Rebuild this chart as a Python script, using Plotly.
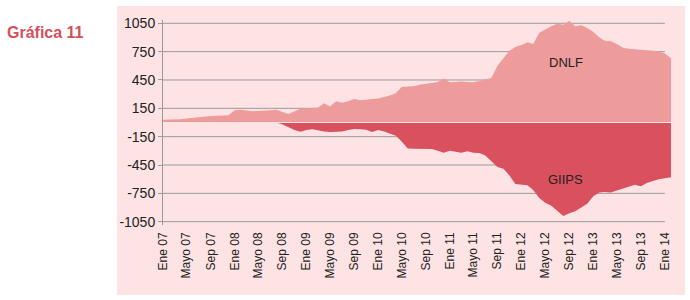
import plotly.graph_objects as go
import pandas as pd

months = pd.date_range("2007-01-01", "2014-02-01", freq="MS")

dnlf = [30, 30, 32, 35, 42, 50, 55, 62, 68, 72, 75, 76,
        130, 135, 128, 120, 122, 128, 132, 135, 110, 90, 120, 145,
        150, 155, 160, 205, 170, 225, 210, 225, 248, 235, 240, 245,
        255, 270, 285, 310, 375, 380, 385, 400, 410, 415, 430, 465,
        425, 430, 435, 430, 425, 440, 455, 470, 600, 680, 760, 800,
        820, 850, 830, 950, 985, 1020, 1045, 1035, 1075, 1020, 1030, 1000,
        960, 900, 865, 860, 830, 790, 780, 775, 772, 768, 762, 755,
        730, 680]

giips = [0, 0, 0, 0, 0, 0, 0, 0, 0, 0, 0, 0,
         0, 0, 0, 0, 0, 0, 0, 0, -20, -50, -80, -98,
         -80, -72, -85, -95, -100, -100, -95, -80, -68, -72, -78, -100,
         -80, -95, -120, -140, -200, -275, -278, -278, -278, -280, -300, -320,
         -298, -310, -320, -305, -320, -322, -350, -410, -470, -490, -560, -650,
         -658, -665, -715, -800, -850, -880, -935, -990, -960, -940, -900, -860,
         -780, -740, -735, -740, -720, -698, -680, -660, -675, -640, -620, -600,
         -590, -580]

tick_dates = pd.date_range("2007-01-01", "2014-01-01", freq="4MS")
mes = {1: "Ene", 5: "Mayo", 9: "Sep"}
tick_text = [f"{mes[d.month]} {d.year % 100:02d}" for d in tick_dates]

y_ticks = [-1050, -750, -450, -150, 150, 450, 750, 1050]
y_text = ["-1050", "-750", "-450", "-150", "150", "450", "750", "1050"]

fig = go.Figure()
fig.add_trace(go.Scatter(x=months, y=dnlf, mode="lines", fill="tozeroy",
                         line=dict(width=0, color="#EE9B9B"), fillcolor="#EE9B9B",
                         hoverinfo="skip", showlegend=False))
fig.add_trace(go.Scatter(x=months, y=giips, mode="lines", fill="tozeroy",
                         line=dict(width=0, color="#D9505F"), fillcolor="#D9505F",
                         hoverinfo="skip", showlegend=False))

shapes = [dict(type="rect", xref="paper", yref="paper",
               x0=-0.0906, x1=1.0276, y0=-0.341, y1=1.068,
               fillcolor="#FDE3E3", line=dict(width=0), layer="below")]
for v in y_ticks:
    shapes.append(dict(type="line", xref="x", yref="y",
                       x0=months[0], x1=pd.Timestamp("2014-01-01"), y0=v, y1=v,
                       line=dict(color="#9A9A9A", width=1), layer="below"))
shapes.append(dict(type="line", xref="x", yref="y",
                   x0=months[0], x1=months[-1], y0=0, y1=0,
                   line=dict(color="#FCE4E4", width=1), layer="above"))

fig.update_layout(
    width=690, height=300,
    margin=dict(l=163, r=19, t=20, b=75, autoexpand=False),
    paper_bgcolor="white", plot_bgcolor="rgba(0,0,0,0)",
    font=dict(family="Liberation Sans, Arial, sans-serif", color="#222222"),
    shapes=shapes,
    hovermode=False,
    xaxis=dict(range=[months[0], months[-1]], tickvals=tick_dates, ticktext=tick_text,
               tickangle=-90, tickfont=dict(size=12, color="#222222"),
               showgrid=False, zeroline=False, showline=False, ticks="",
               ticklabelstandoff=4, automargin=False),
    yaxis=dict(range=[-1085, 1085], tickvals=y_ticks, ticktext=y_text,
               tickfont=dict(size=14, color="#222222"), automargin=False,
               showgrid=False, zeroline=False, showline=True, linecolor="#9A9A9A",
               linewidth=1, ticks="outside", ticklen=4, tickcolor="#9A9A9A"),
    annotations=[
        dict(text="<b>Gráfica 11</b>", xref="paper", yref="paper",
             x=(5 - 163) / 508, y=(225 - 33) / 205,
             xanchor="left", yanchor="middle", showarrow=False,
             font=dict(size=16, color="#D4505A")),
        dict(text="DNLF", x=pd.Timestamp("2012-08-15"), y=637, xref="x", yref="y",
             showarrow=False, font=dict(size=13, color="#222222")),
        dict(text="GIIPS", x=pd.Timestamp("2012-08-15"), y=-600, xref="x", yref="y",
             showarrow=False, font=dict(size=13, color="#222222")),
    ],
)
fig.write_html("out.html", config={"displayModeBar": False, "staticPlot": True},
               post_script="document.body.style.margin='0px';document.body.style.overflow='hidden';")
